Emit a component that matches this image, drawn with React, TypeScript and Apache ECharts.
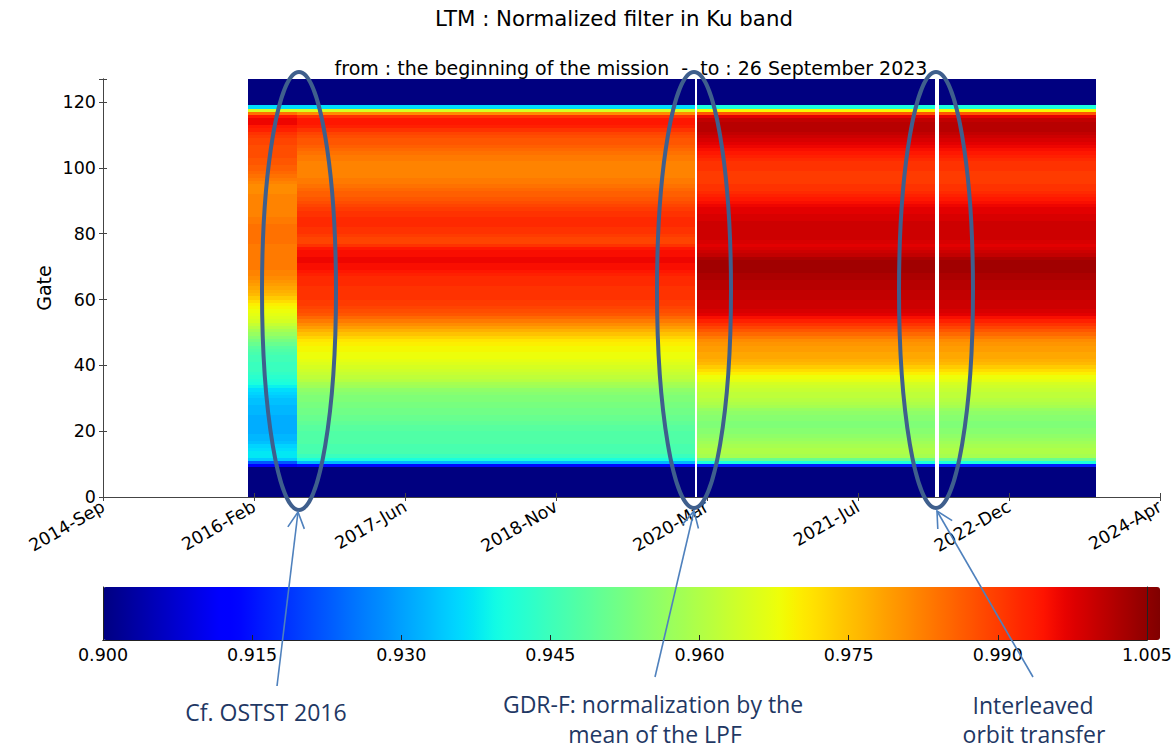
import React, { useEffect, useRef } from "react";
import * as echarts from "echarts";

// ---- Axis definitions -------------------------------------------------------
// x is counted in days from the first tick date (matplotlib date number 735500)
const AXIS_ORIGIN = "2014-09-24";
const X_SPAN_DAYS = 3500;
const X_TICK_DAYS = 500;
const xTickLabels = [
  "2014-Sep", "2016-Feb", "2017-Jun", "2018-Nov",
  "2020-Mar", "2021-Jul", "2022-Dec", "2024-Apr",
];
const GATE_MAX = 127;
const GATE_TICK = 20;
const colorbarMin = 0.9;
const colorbarMax = 1.005;
const colorbarStep = 0.015;

// ---- Time segments of the LTM record ----------------------------------------
const segmentStart = ["2016-01-16", "2016-06-27", "2020-02-13", "2022-04-23"];
const segmentEnd = ["2016-06-27", "2020-02-06", "2022-04-10", "2023-09-26"];
const segmentProfile = ["commissioning", "gdrE", "gdrF", "gdrF"];

// ---- Normalized filter per gate (gate 0 .. 127) -----------------------------
const profileCommissioning = [
  0.900, 0.900, 0.900, 0.900, 0.900, 0.900, 0.900, 0.900,
  0.900, 0.912, 0.922, 0.934, 0.937, 0.937, 0.936, 0.935,
  0.933, 0.932, 0.932, 0.931, 0.931, 0.931, 0.931, 0.931,
  0.931, 0.932, 0.932, 0.932, 0.933, 0.933, 0.934, 0.935,
  0.936, 0.938, 0.940, 0.941, 0.942, 0.943, 0.944, 0.944,
  0.944, 0.945, 0.945, 0.946, 0.947, 0.948, 0.950, 0.952,
  0.954, 0.956, 0.958, 0.960, 0.962, 0.964, 0.965, 0.966,
  0.967, 0.968, 0.969, 0.971, 0.973, 0.975, 0.976, 0.977,
  0.978, 0.979, 0.980, 0.981, 0.981, 0.982, 0.982, 0.982,
  0.982, 0.982, 0.982, 0.982, 0.982, 0.983, 0.983, 0.983,
  0.983, 0.983, 0.983, 0.982, 0.982, 0.981, 0.981, 0.981,
  0.981, 0.981, 0.981, 0.981, 0.980, 0.980, 0.980, 0.981,
  0.982, 0.983, 0.984, 0.985, 0.985, 0.986, 0.986, 0.987,
  0.987, 0.987, 0.987, 0.988, 0.988, 0.989, 0.990, 0.992,
  0.993, 0.995, 0.995, 0.993, 0.983, 0.964, 0.936, 0.900,
  0.900, 0.900, 0.900, 0.900, 0.900, 0.900, 0.900, 0.900,
];

const profileGdrE = [
  0.900, 0.900, 0.900, 0.900, 0.900, 0.900, 0.900, 0.900,
  0.900, 0.914, 0.932, 0.940, 0.944, 0.946, 0.946, 0.946,
  0.947, 0.947, 0.947, 0.947, 0.948, 0.948, 0.949, 0.950,
  0.950, 0.951, 0.951, 0.952, 0.952, 0.953, 0.953, 0.954,
  0.955, 0.957, 0.958, 0.960, 0.961, 0.962, 0.963, 0.964,
  0.965, 0.966, 0.967, 0.967, 0.968, 0.968, 0.969, 0.970,
  0.972, 0.974, 0.976, 0.978, 0.980, 0.982, 0.984, 0.986,
  0.987, 0.988, 0.989, 0.989, 0.990, 0.990, 0.990, 0.990,
  0.991, 0.991, 0.991, 0.992, 0.993, 0.994, 0.994, 0.995,
  0.995, 0.994, 0.994, 0.993, 0.990, 0.988, 0.988, 0.989,
  0.990, 0.990, 0.991, 0.991, 0.991, 0.990, 0.990, 0.989,
  0.988, 0.987, 0.986, 0.985, 0.985, 0.984, 0.983, 0.982,
  0.982, 0.981, 0.981, 0.981, 0.981, 0.981, 0.982, 0.982,
  0.983, 0.984, 0.985, 0.986, 0.986, 0.987, 0.988, 0.990,
  0.992, 0.993, 0.993, 0.990, 0.980, 0.964, 0.936, 0.900,
  0.900, 0.900, 0.900, 0.900, 0.900, 0.900, 0.900, 0.900,
];

const profileGdrF = [
  0.900, 0.900, 0.900, 0.900, 0.900, 0.900, 0.900, 0.900,
  0.900, 0.916, 0.940, 0.950, 0.958, 0.959, 0.959, 0.958,
  0.957, 0.956, 0.955, 0.954, 0.954, 0.953, 0.953, 0.954,
  0.954, 0.955, 0.956, 0.958, 0.959, 0.960, 0.961, 0.961,
  0.962, 0.963, 0.964, 0.966, 0.967, 0.969, 0.971, 0.973,
  0.975, 0.976, 0.977, 0.977, 0.978, 0.978, 0.979, 0.980,
  0.982, 0.984, 0.986, 0.988, 0.990, 0.992, 0.994, 0.996,
  0.997, 0.998, 0.998, 0.998, 0.999, 0.999, 0.999, 1.000,
  1.000, 1.000, 1.001, 1.001, 1.002, 1.002, 1.002, 1.002,
  1.001, 0.999, 0.998, 0.997, 0.996, 0.997, 0.998, 0.998,
  0.998, 0.998, 0.998, 0.998, 0.997, 0.997, 0.996, 0.996,
  0.995, 0.994, 0.993, 0.992, 0.991, 0.990, 0.990, 0.989,
  0.989, 0.989, 0.989, 0.990, 0.990, 0.990, 0.991, 0.992,
  0.993, 0.994, 0.995, 0.996, 0.997, 0.998, 0.999, 1.000,
  1.000, 1.000, 0.999, 0.996, 0.986, 0.968, 0.940, 0.900,
  0.900, 0.900, 0.900, 0.900, 0.900, 0.900, 0.900, 0.900,
];

const profiles: Record<string, number[]> = {
  commissioning: profileCommissioning,
  gdrE: profileGdrE,
  gdrF: profileGdrF,
};

// ---- Jet colour map (matplotlib segment data) --------------------------------
const JET: Record<string, number[][]> = {
  r: [[0, 0], [0.35, 0], [0.66, 1], [0.89, 1], [1, 0.5]],
  g: [[0, 0], [0.125, 0], [0.375, 1], [0.64, 1], [0.91, 0], [1, 0]],
  b: [[0, 0.5], [0.11, 1], [0.34, 1], [0.65, 0], [1, 0]],
};
function jetChannel(pts: number[][], t: number) {
  for (let i = 1; i < pts.length; i++) {
    if (t <= pts[i][0]) {
      const [t0, v0] = pts[i - 1];
      const [t1, v1] = pts[i];
      return v0 + ((t - t0) / (t1 - t0)) * (v1 - v0);
    }
  }
  return pts[pts.length - 1][1];
}
function jet(t: number) {
  const c = (k: string) => Math.round(255 * jetChannel(JET[k], t));
  return `rgb(${c("r")},${c("g")},${c("b")})`;
}
const jetStops = Array.from({ length: 129 }, (_, i) => jet(i / 128));

// ---- Helpers -------------------------------------------------------------------
const DAY = 86400000;
const dayOf = (d: string) => (Date.parse(d) - Date.parse(AXIS_ORIGIN)) / DAY;

function buildCells() {
  const cells: number[][] = [];
  segmentStart.forEach((s, i) => {
    const t0 = dayOf(s);
    const t1 = dayOf(segmentEnd[i]);
    profiles[segmentProfile[i]].forEach((v, gate) => cells.push([t0, t1, gate, v]));
  });
  return cells;
}

function arrowHead(tail: number[], head: number[], len = 18, half = 0.48) {
  const a = Math.atan2(tail[1] - head[1], tail[0] - head[0]);
  return [
    [head[0] + len * Math.cos(a + half), head[1] + len * Math.sin(a + half)],
    head,
    [head[0] + len * Math.cos(a - half), head[1] + len * Math.sin(a - half)],
  ];
}

const FONT = "'DejaVu Sans', sans-serif";
const NOTE_FONT = "'Open Sans', sans-serif";
const FRAME = "#444";
const RING = "#3f5f8d";
const ARROW = "#4f81bd";
const NOTE = "#1f3864";

function buildOption(): echarts.EChartsOption {
  const frameLine = { show: true, lineStyle: { color: FRAME, width: 1 } };
  const tickInside = { show: true, inside: true, length: 4, lineStyle: { color: FRAME, width: 1 } };
  const tickLabel = { color: "#000", fontFamily: FONT, fontSize: 17.5 };

  const notes = [
    { tail: [277, 686], head: [298, 512] },
    { tail: [655, 677], head: [694, 511] },
    { tail: [1033, 677], head: [937, 511] },
  ];
  const rings = [
    { cx: 299, cy: 291, rx: 37, ry: 219 },
    { cx: 694, cy: 290, rx: 37, ry: 218 },
    { cx: 936, cy: 290, rx: 37, ry: 218 },
  ];
  const texts = [
    { x: 614, y: 18, text: "LTM : Normalized filter in Ku band", size: 21.3 },
    { x: 631, y: 68, text: "from : the beginning of the mission  -  to : 26 September 2023", size: 19 },
  ];
  const noteTexts = [
    { x: 266, y: 712, text: "Cf. OSTST 2016" },
    { x: 653, y: 704, text: "GDR-F: normalization by the" },
    { x: 655, y: 734, text: "mean of the LPF" },
    { x: 1033, y: 705, text: "Interleaved" },
    { x: 1034, y: 734, text: "orbit transfer" },
  ];

  const graphic: any[] = [];
  texts.forEach((t) =>
    graphic.push({
      type: "text", x: t.x, y: t.y, z: 50,
      style: { text: t.text, fill: "#000", fontFamily: FONT, fontSize: t.size, align: "center", verticalAlign: "middle" },
    })
  );
  graphic.push({
    type: "text", x: 44, y: 288, rotation: Math.PI / 2, z: 50,
    style: { text: "Gate", fill: "#000", fontFamily: FONT, fontSize: 19, align: "center", verticalAlign: "middle" },
  });
  rings.forEach((r) =>
    graphic.push({
      type: "ellipse", z: 100, silent: true,
      shape: r, style: { fill: null, stroke: RING, lineWidth: 4 },
    })
  );
  notes.forEach((n) => {
    graphic.push({
      type: "line", z: 100, silent: true,
      shape: { x1: n.tail[0], y1: n.tail[1], x2: n.head[0], y2: n.head[1] },
      style: { stroke: ARROW, lineWidth: 1.6 },
    });
    graphic.push({
      type: "polyline", z: 100, silent: true,
      shape: { points: arrowHead(n.tail, n.head) },
      style: { stroke: ARROW, lineWidth: 1.6, fill: null },
    });
  });
  noteTexts.forEach((t) =>
    graphic.push({
      type: "text", x: t.x, y: t.y, z: 100,
      style: { text: t.text, fill: NOTE, fontFamily: NOTE_FONT, fontSize: 23, align: "center", verticalAlign: "middle" },
    })
  );

  return {
    animation: false,
    backgroundColor: "#fff",
    grid: [
      { left: 103, top: 79, width: 1057, height: 418 },
      { left: 103, top: 587, width: 1057, height: 53 },
    ],
    xAxis: [
      {
        gridIndex: 0, type: "value", position: "bottom",
        min: 0, max: X_SPAN_DAYS, interval: X_TICK_DAYS, z: 5,
        axisLine: frameLine, axisTick: tickInside, splitLine: { show: false },
        axisLabel: {
          ...tickLabel, rotate: 30, margin: 8,
          formatter: (v: number) => xTickLabels[Math.round(v / X_TICK_DAYS)] ?? "",
        },
      },
      {
        gridIndex: 0, type: "value", position: "top",
        min: 0, max: X_SPAN_DAYS, interval: X_TICK_DAYS, z: 5,
        axisLine: frameLine, axisTick: tickInside, splitLine: { show: false },
        axisLabel: { show: false },
      },
      {
        gridIndex: 1, type: "value", position: "bottom",
        min: colorbarMin, max: colorbarMax, interval: colorbarStep, z: 5,
        axisLine: { show: true, lineStyle: { color: "#222", width: 1 } },
        axisTick: { show: true, inside: true, length: 5, lineStyle: { color: "#222" } },
        splitLine: { show: false },
        axisLabel: { ...tickLabel, margin: 6, formatter: (v: number) => v.toFixed(3) },
      },
      {
        gridIndex: 1, type: "value", position: "top",
        min: colorbarMin, max: colorbarMax, z: 5,
        axisLine: { show: true, lineStyle: { color: "#222", width: 1 } },
        axisTick: { show: false }, axisLabel: { show: false }, splitLine: { show: false },
      },
    ],
    yAxis: [
      {
        gridIndex: 0, type: "value", position: "left",
        min: 0, max: GATE_MAX, interval: GATE_TICK, z: 5,
        axisLine: frameLine, axisTick: tickInside, splitLine: { show: false },
        axisLabel: {
          ...tickLabel, margin: 7,
          formatter: (v: number) => (v % GATE_TICK === 0 ? String(v) : ""),
        },
      },
      {
        gridIndex: 0, type: "value", position: "right",
        min: 0, max: GATE_MAX, interval: GATE_TICK, z: 5,
        axisLine: frameLine, axisTick: tickInside, splitLine: { show: false },
        axisLabel: { show: false },
      },
      {
        gridIndex: 1, type: "value", position: "left", min: 0, max: 1, z: 5,
        axisLine: { show: true, lineStyle: { color: "#222", width: 1 } },
        axisTick: { show: false }, axisLabel: { show: false }, splitLine: { show: false },
      },
      {
        gridIndex: 1, type: "value", position: "right", min: 0, max: 1, z: 5,
        axisLine: { show: true, lineStyle: { color: "#222", width: 1 } },
        axisTick: { show: false }, axisLabel: { show: false }, splitLine: { show: false },
      },
    ],
    visualMap: {
      type: "continuous",
      min: colorbarMin, max: colorbarMax,
      dimension: 3, seriesIndex: 0,
      orient: "horizontal",
      left: 103, top: 587,
      itemWidth: 53, itemHeight: 1057,
      padding: 0,
      calculable: false, hoverLink: false,
      inRange: { color: jetStops },
      z: 2,
    },
    series: [
      {
        type: "custom",
        xAxisIndex: 0, yAxisIndex: 0,
        encode: { x: [0, 1], y: 2 },
        data: buildCells(),
        silent: true,
        renderItem: (params: any, api: any) => {
          const lb = api.coord([api.value(0), api.value(2)]);
          const rt = api.coord([api.value(1), api.value(2) + 1]);
          const cs = params.coordSys;
          // snap cell edges to whole pixels so adjacent gates meet without seams
          const x0 = Math.round(lb[0]);
          const x1 = Math.round(rt[0]);
          const y0 = Math.round(rt[1]);
          const y1 = Math.round(lb[1]);
          const rect = echarts.graphic.clipRectByRect(
            { x: x0, y: y0, width: x1 - x0, height: y1 - y0 },
            { x: cs.x, y: cs.y, width: cs.width, height: cs.height }
          );
          if (!rect) return null;
          return { type: "rect", shape: rect, style: { fill: api.visual("color") } };
        },
      },
    ],
    graphic,
  } as any;
}

export default function App() {
  const ref = useRef<HTMLDivElement>(null);
  useEffect(() => {
    const chart = echarts.init(ref.current!, null, { renderer: "svg" });
    chart.setOption(buildOption());
    return () => chart.dispose();
  }, []);
  return (
    <div
      ref={ref}
      style={{ position: "absolute", left: 0, top: 0, width: 1175, height: 749 }}
    />
  );
}
